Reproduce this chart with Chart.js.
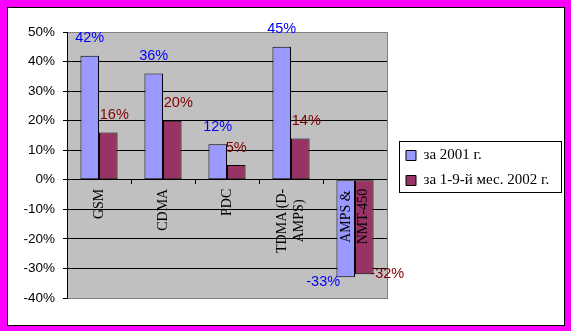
<!DOCTYPE html>
<html><head><meta charset="utf-8">
<script src="https://cdn.jsdelivr.net/npm/chart.js@4/dist/chart.umd.min.js"></script>
<style>
html,body{margin:0;padding:0;background:#FF00FF;width:571px;height:331px;overflow:hidden;}
#frame{position:absolute;left:7px;top:7px;width:556px;height:317px;background:#fff;border:1px solid #000;}
#c{position:absolute;left:0;top:0;}
</style></head>
<body><div id="frame"></div><canvas id="c" width="571" height="331"></canvas>
<script>
const categories = ['GSM', 'CDMA', 'PDC', ['TDMA (D-', 'AMPS)'], ['AMPS &', 'NMT-450']];
const seriesNames = ['за 2001 г.', 'за 1-9-й мес. 2002 г.'];
const values2001 = [42, 36, 12, 45, -33];
const values2002 = [16, 20, 5, 14, -32];
const yTickValues = [-40, -30, -20, -10, 0, 10, 20, 30, 40, 50];

const SANS = '"Liberation Sans", Arial, sans-serif';
const SERIF = '"Liberation Serif", "Times New Roman", serif';

const plotBg = {
  id: 'plotBg',
  beforeDraw(chart) {
    const {ctx, chartArea: a} = chart;
    ctx.save();
    ctx.fillStyle = '#C0C0C0';
    ctx.fillRect(a.left, a.top, a.right - a.left, a.bottom - a.top);
    ctx.restore();
    // center multi-line rotated category labels
    const xs = chart.scales.x;
    const items = xs.getLabelItems(chart.chartArea);
    items.forEach(it => {
      if (it._fixed) return;
      it._fixed = true;
      if (Array.isArray(it.label) && it.label.length > 1) {
        const n = it.label.length, lh = it.font.lineHeight;
        ctx.save(); ctx.font = it.font.string;
        const w = Math.max(...it.label.map(s => ctx.measureText(s).width));
        ctx.restore();
        it.options.translation[0] -= (n - 1) * lh / 2;
        it.options.translation[1] += w / 2;
        it.options.textAlign = 'center';
      }
    });
  }
};

const legendFix = {
  id: 'legendFix',
  beforeLayout(chart) {
    const lg = chart.legend;
    if (lg && !lg._patched) {
      const orig = lg.fit;
      lg.fit = function () { orig.call(this); this.width = 169; };
      lg._patched = true;
    }
  },
  afterLayout(chart) { if (chart.legend) chart.legend.top += 6; },
  afterDraw(chart) {
    const lg = chart.legend, ctx = chart.ctx;
    const hb = lg.legendHitBoxes;
    if (!hb || !hb.length) return;
    const l = Math.round(lg.left + 3), r = Math.round(lg.left + 165);
    const t = Math.round(hb[0].top - 7), last = hb[hb.length - 1];
    const b = Math.round(last.top + last.height + 4);
    ctx.save();
    ctx.strokeStyle = '#000'; ctx.lineWidth = 1;
    ctx.strokeRect(l + 0.5, t + 0.5, r - l, b - t);
    ctx.restore();
  }
};

const barLabels = {
  id: 'barLabels',
  afterDatasetsDraw(chart, args, opts) {
    const ctx = chart.ctx;
    chart.data.datasets.forEach((ds, i) => {
      const meta = chart.getDatasetMeta(i);
      meta.data.forEach((el, j) => {
        const v = ds.data[j];
        const off = opts.offsets[i][j];
        ctx.save();
        ctx.font = opts.font;
        ctx.fillStyle = opts.colors[i];
        ctx.textAlign = 'center';
        ctx.textBaseline = 'middle';
        ctx.fillText(v + '%', el.x + off[0], el.y + off[1]);
        ctx.restore();
      });
    });
  }
};

new Chart(document.getElementById('c'), {
  type: 'bar',
  data: {
    labels: categories,
    datasets: [
      {label: seriesNames[0], data: values2001, backgroundColor: '#9999FF', borderColor: '#000', borderWidth: 1,
       borderSkipped: false, categoryPercentage: 0.58, barPercentage: 1},
      {label: seriesNames[1], data: values2002, backgroundColor: '#993366', borderColor: '#000', borderWidth: 1,
       borderSkipped: false, categoryPercentage: 0.58, barPercentage: 1}
    ]
  },
  options: {
    responsive: false,
    animation: false,
    devicePixelRatio: 1,
    layout: {padding: {left: 7, right: 6, top: 32, bottom: 33}},
    plugins: {
      legend: {
        position: 'right', align: 'center',
        labels: {boxWidth: 10, boxHeight: 10, padding: 10, color: '#000', font: {family: SERIF, size: 15}}
      },
      tooltip: {enabled: false},
      barLabels: {
        font: '14.5px ' + SANS,
        colors: ['#0000FF', '#800000'],
        offsets: [
          [[0, -17.5], [0, -17.5], [0, -17.5], [0, -17.5], [-22.5, 4.6]],
          [[6, -17.5], [6, -17.5], [0, -17.5], [6, -17.5], [23, -0.7]]
        ]
      }
    },
    scales: {
      x: {
        type: 'category',
        position: {y: 0},
        offset: true,
        grid: {offset: true, drawOnChartArea: false, drawTicks: true, tickLength: 4, color: '#000', tickColor: '#000'},
        border: {display: true, color: '#000', width: 1},
        ticks: {z: 1, minRotation: 90, maxRotation: 90, autoSkip: false, padding: 5, color: '#000',
                font: {family: SERIF, size: 14, lineHeight: 1.25}}
      },
      y: {
        position: 'left',
        min: yTickValues[0], max: yTickValues[yTickValues.length - 1],
        ticks: {stepSize: yTickValues[1] - yTickValues[0], callback: v => v + '%', padding: 8, color: '#000',
                font: {family: SANS, size: 13.5}},
        grid: {color: c => (c.tick && (c.tick.value === 50 || c.tick.value === -40)) ? '#808080' : '#000',
               tickColor: '#000', tickLength: 4, lineWidth: 1},
        border: {color: '#000', width: 1},
        afterFit(s) { s.width = 60; }
      },
      y2: {
        position: 'right',
        min: yTickValues[0], max: yTickValues[yTickValues.length - 1],
        grid: {drawOnChartArea: false, drawTicks: false},
        ticks: {display: false},
        border: {color: '#808080', width: 1},
        afterFit(s) { s.width = 9; }
      }
    }
  },
  plugins: [plotBg, legendFix, barLabels]
});
</script>
</body></html>
